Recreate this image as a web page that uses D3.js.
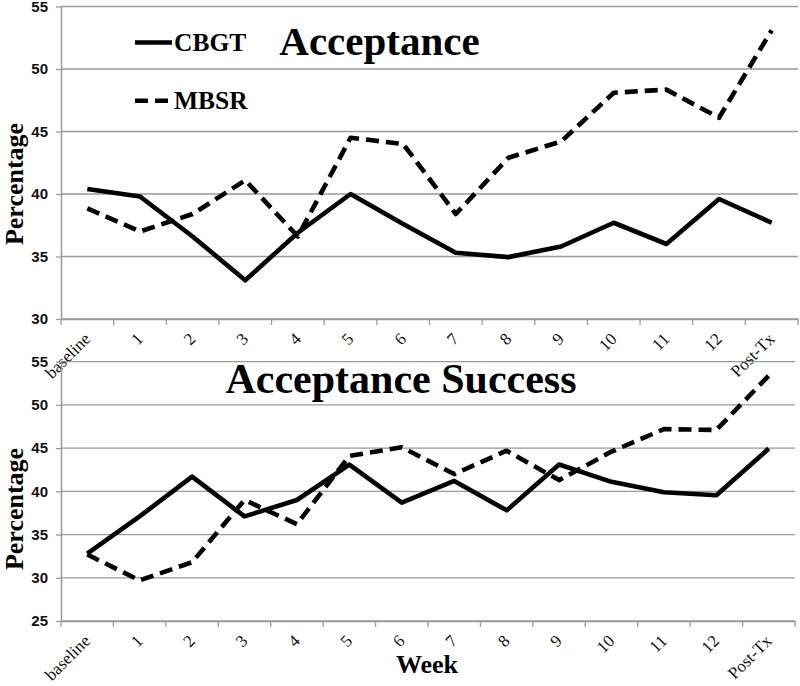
<!DOCTYPE html>
<html>
<head>
<meta charset="utf-8">
<script src="https://cdn.jsdelivr.net/npm/d3@7"></script>
<style>
  html, body { margin: 0; padding: 0; background: #fff; }
  svg { display: block; }
</style>
</head>
<body>
<svg id="chart" width="800" height="686"></svg>
<script>
const weeks = ["baseline","1","2","3","4","5","6","7","8","9","10","11","12","Post-Tx"];
const seriesNames = ["CBGT", "MBSR"];

const acceptanceCBGT = [40.4, 39.8, 36.6, 33.1, 36.9, 40.0, 37.6, 35.3, 34.95, 35.8, 37.7, 36.0, 39.6, 37.7];
const acceptanceMBSR = [38.85, 37.0, 38.4, 41.1, 36.6, 44.5, 44.0, 38.4, 42.9, 44.2, 48.1, 48.35, 46.1, 53.1];

const successCBGT = [32.8, 37.1, 41.7, 37.1, 39.0, 43.1, 38.7, 41.2, 37.8, 43.1, 41.1, 39.9, 39.55, 44.95];
const successMBSR = [32.7, 29.7, 31.8, 39.0, 36.2, 44.1, 45.1, 42.0, 44.7, 41.3, 44.6, 47.2, 47.1, 53.4];

const acceptanceTicks = [30, 35, 40, 45, 50, 55];
const successTicks = [25, 30, 35, 40, 45, 50, 55];

const titles = ["Acceptance", "Acceptance Success"];
const yTitle = "Percentage";
const xTitle = "Week";

const svg = d3.select("#chart");
const serif = "'Liberation Serif', 'Times New Roman', serif";
const sans = "'Liberation Sans', Arial, sans-serif";
const gridColor = "#9a9a9a";

function panel(cfg) {
  const x = d3.scaleBand().domain(weeks).range([cfg.left, cfg.right]);
  const y = d3.scaleLinear().domain(cfg.domain).range([cfg.bottom, cfg.top]);
  const g = svg.append("g");

  g.append("g").selectAll("line").data(cfg.ticks).join("line")
    .attr("x1", cfg.left).attr("x2", cfg.right)
    .attr("y1", d => y(d)).attr("y2", d => y(d))
    .attr("stroke", gridColor).attr("stroke-width", 1.3);

  const yAxis = g.append("g").attr("transform", `translate(${cfg.left},0)`)
    .call(d3.axisLeft(y).tickValues(cfg.ticks).tickSize(5).tickPadding(8).tickSizeOuter(0));
  yAxis.select(".domain").attr("stroke", gridColor).attr("stroke-width", 1.5);
  yAxis.selectAll(".tick line").attr("stroke", gridColor).attr("stroke-width", 1.3);
  yAxis.selectAll(".tick text").attr("font-family", sans).attr("font-weight", "bold")
    .attr("font-size", 15).attr("fill", "#111");

  const xAxis = g.append("g").attr("transform", `translate(0,${cfg.bottom})`)
    .call(d3.axisBottom(x).tickSize(0).tickSizeOuter(0));
  xAxis.select(".domain").attr("stroke", gridColor).attr("stroke-width", 1.5);
  xAxis.selectAll(".tick text")
    .attr("font-family", serif).attr("font-size", 17).attr("fill", "#111")
    .attr("text-anchor", "end").attr("dy", null).attr("y", null)
    .attr("transform", "translate(4,21) rotate(-45)");
  const boundaries = weeks.map(w => x(w)).concat([cfg.right]);
  g.append("g").selectAll("line").data(boundaries).join("line")
    .attr("x1", d => d).attr("x2", d => d)
    .attr("y1", cfg.bottom).attr("y2", cfg.bottom + 6)
    .attr("stroke", gridColor).attr("stroke-width", 1.3);

  const line = d3.line().x((d, i) => x(weeks[i]) + x.bandwidth() / 2).y(d => y(d));
  g.append("path").datum(cfg.cbgt).attr("d", line)
    .attr("fill", "none").attr("stroke", "#000").attr("stroke-width", 4.6)
    .attr("stroke-linejoin", "round");
  g.append("path").datum(cfg.mbsr).attr("d", line)
    .attr("fill", "none").attr("stroke", "#000").attr("stroke-width", 4.6)
    .attr("stroke-dasharray", "13,7").attr("stroke-linejoin", "round");

  g.append("text").attr("x", cfg.titleX).attr("y", cfg.titleY)
    .attr("text-anchor", "middle").attr("font-family", serif).attr("font-weight", "bold")
    .attr("font-size", cfg.titleSize).attr("fill", "#000").text(cfg.title);

  g.append("text").attr("transform", `translate(23,${cfg.yTitleY}) rotate(-90)`)
    .attr("text-anchor", "middle").attr("font-family", serif).attr("font-weight", "bold")
    .attr("font-size", 26).attr("fill", "#000").text(yTitle);
  return g;
}

const topPanel = panel({
  left: 61, right: 798, top: 6.5, bottom: 319, domain: [30, 55], ticks: acceptanceTicks,
  cbgt: acceptanceCBGT, mbsr: acceptanceMBSR,
  title: titles[0], titleX: 379.5, titleY: 55, titleSize: 41, yTitleY: 184
});

const legend = topPanel.append("g");
const legendRows = [{ name: seriesNames[0], y: 42.5, dash: null }, { name: seriesNames[1], y: 100.7, dash: "13,7" }];
legendRows.forEach(r => {
  legend.append("line").attr("x1", 135).attr("x2", 172).attr("y1", r.y).attr("y2", r.y)
    .attr("stroke", "#000").attr("stroke-width", 4.6).attr("stroke-dasharray", r.dash);
  legend.append("text").attr("x", 174).attr("y", r.y + 8.5)
    .attr("font-family", serif).attr("font-weight", "bold").attr("font-size", 25.5)
    .attr("fill", "#000").text(r.name);
});

panel({
  left: 61, right: 795, top: 361.7, bottom: 621, domain: [25, 55], ticks: successTicks,
  cbgt: successCBGT, mbsr: successMBSR,
  title: titles[1], titleX: 401, titleY: 393, titleSize: 42, yTitleY: 509
});

svg.append("text").attr("x", 427).attr("y", 673).attr("text-anchor", "middle")
  .attr("font-family", serif).attr("font-weight", "bold").attr("font-size", 26)
  .attr("fill", "#000").text(xTitle);
</script>
</body>
</html>
